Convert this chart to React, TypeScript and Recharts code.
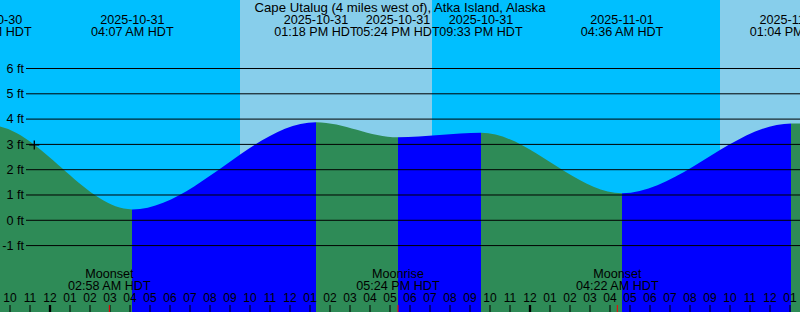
import React from 'react';
import {
  ComposedChart,
  Area,
  XAxis,
  YAxis,
  ReferenceArea,
  ReferenceLine,
  ReferenceDot,
  Customized,
} from 'recharts';

// Time axis: hours relative to 2025-10-31 00:00 HDT
const TITLE = 'Cape Utalug (4 miles west of), Atka Island, Alaska';

// Tide extremes (high / low)
const tideTimes = [-9.3, -3.0, 4.117, 13.3, 17.4, 21.55, 28.6, 37.067, 42.0];
const tideLevels = [3.2, 3.75, 0.43, 3.88, 3.28, 3.46, 1.07, 3.83, 3.3];
const tideDates = [
  '2025-10-30',
  '2025-10-30',
  '2025-10-31',
  '2025-10-31',
  '2025-10-31',
  '2025-10-31',
  '2025-11-01',
  '2025-11-01',
  '2025-11-01',
];
const tideClock = [
  '02:42 PM HDT',
  '09:00 PM HDT',
  '04:07 AM HDT',
  '01:18 PM HDT',
  '05:24 PM HDT',
  '09:33 PM HDT',
  '04:36 AM HDT',
  '01:04 PM HDT',
  '06:00 PM HDT',
];

// Daylight intervals [sunrise, sunset]
const dayStarts = [9.5, 33.5];
const dayEnds = [19.1, 43.1];

// Moon events
const moonTimes = [2.967, 17.4, 28.367];
const moonNames = ['Moonset', 'Moonrise', 'Moonset'];
const moonClock = ['02:58 AM HDT', '05:24 PM HDT', '04:22 AM HDT'];

// Current-time marker
const nowTime = -0.785;
const nowLevel = 2.98;

// Axes
const xDomain: [number, number] = [-2.5, 37.5];
const yDomain: [number, number] = [-3.625, 8.708];
const hourTicks = [
  -2, -1, 0, 1, 2, 3, 4, 5, 6, 7, 8, 9, 10, 11, 12, 13, 14, 15, 16, 17, 18, 19,
  20, 21, 22, 23, 24, 25, 26, 27, 28, 29, 30, 31, 32, 33, 34, 35, 36, 37,
];
const ftTicks = [6, 5, 4, 3, 2, 1, 0, -1];

const NIGHT = '#00BFFF';
const DAY = '#87CEEB';
const FALLING = '#2E8B57';
const RISING = '#0000FF';
const FONT = '"Liberation Sans", Arial, sans-serif';
const FS = 12.6;

const tideData = tideTimes.map((t, i) => ({ t, level: tideLevels[i] }));

const tMin = tideTimes[0];
const tMax = tideTimes[tideTimes.length - 1];
const gradientStops: { offset: number; color: string }[] = [];
for (let i = 0; i < tideTimes.length - 1; i++) {
  const color = tideLevels[i + 1] > tideLevels[i] ? RISING : FALLING;
  gradientStops.push({ offset: (tideTimes[i] - tMin) / (tMax - tMin), color });
  gradientStops.push({ offset: (tideTimes[i + 1] - tMin) / (tMax - tMin), color });
}

const hourLabel = (h: number) => {
  const hh = ((h % 24) + 24) % 24;
  const h12 = hh % 12 === 0 ? 12 : hh % 12;
  return String(h12).padStart(2, '0');
};

const Title = () => (
  <text
    x={400}
    y={11.5}
    textAnchor="middle"
    fontSize={13.2}
    fontFamily={FONT}
    fill="#000"
  >
    {TITLE}
  </text>
);

export default function App() {
  return (
    <div style={{ position: 'absolute', left: 0, top: 0, width: 800, height: 312, background: NIGHT }}>
      <ComposedChart
        width={800}
        height={312}
        data={tideData}
        margin={{ top: 0, right: 0, bottom: 0, left: 0 }}
      >
        <defs>
          <linearGradient id="tideFill" x1="0" y1="0" x2="1" y2="0">
            {gradientStops.map((s, i) => (
              <stop key={i} offset={s.offset} stopColor={s.color} />
            ))}
          </linearGradient>
        </defs>
        <XAxis dataKey="t" type="number" domain={xDomain} allowDataOverflow hide />
        <YAxis type="number" domain={yDomain} allowDataOverflow hide />
        {dayStarts.map((s, i) => (
          <ReferenceArea
            key={'day' + i}
            x1={s}
            x2={dayEnds[i]}
            fill={DAY}
            fillOpacity={1}
            stroke="none"
            ifOverflow="hidden"
            zIndex={-200}
          />
        ))}
        <Area
          type="monotone"
          dataKey="level"
          baseValue="dataMin"
          stroke="none"
          fill="url(#tideFill)"
          fillOpacity={1}
          isAnimationActive={false}
          dot={false}
          activeDot={false}
        />
        {ftTicks.map((v) => (
          <ReferenceLine
            key={'ft' + v}
            y={v}
            zIndex={500}
            shape={(p: any) => (
              <g>
                <line
                  x1={26}
                  x2={Math.max(p.x1, p.x2)}
                  y1={p.y1}
                  y2={p.y2}
                  stroke="#000"
                  strokeWidth={1}
                />
                <text
                  x={24}
                  y={p.y1 + 4.3}
                  textAnchor="end"
                  fontSize={FS}
                  fontFamily={FONT}
                  fill="#000"
                >
                  {v + ' ft'}
                </text>
              </g>
            )}
          />
        ))}
        {hourTicks.map((h) => (
          <ReferenceLine
            key={'h' + h}
            x={h}
            ifOverflow="visible"
            zIndex={600}
            shape={(p: any) => {
              const bottom = Math.max(p.y1, p.y2);
              const midnight = ((h % 24) + 24) % 24 === 0;
              return (
                <g>
                  <text
                    x={p.x1}
                    y={bottom - 10.5}
                    textAnchor="middle"
                    fontSize={12}
                    fontFamily={FONT}
                    fill="#000"
                  >
                    {hourLabel(h)}
                  </text>
                  <line
                    x1={p.x1}
                    x2={p.x1}
                    y1={bottom - 7}
                    y2={bottom}
                    stroke="#000"
                    strokeWidth={midnight ? 2.3 : 1}
                  />
                </g>
              );
            }}
          />
        ))}
        {tideTimes.map((t, i) => (
          <ReferenceLine
            key={'tl' + i}
            x={t}
            ifOverflow="visible"
            zIndex={600}
            shape={(p: any) => {
              const top = Math.min(p.y1, p.y2);
              return (
                <g fontSize={FS} fontFamily={FONT} fill="#000">
                  <text x={p.x1} y={top + 24} textAnchor="middle">
                    {tideDates[i]}
                  </text>
                  <text x={p.x1} y={top + 36} textAnchor="middle">
                    {tideClock[i]}
                  </text>
                </g>
              );
            }}
          />
        ))}
        {moonTimes.map((t, i) => (
          <ReferenceLine
            key={'moon' + i}
            x={t}
            ifOverflow="visible"
            zIndex={650}
            shape={(p: any) => {
              const bottom = Math.max(p.y1, p.y2);
              return (
                <g fontSize={FS} fontFamily={FONT} fill="#000">
                  <text x={p.x1} y={bottom - 33.7} textAnchor="middle">
                    {moonNames[i]}
                  </text>
                  <text x={p.x1} y={bottom - 22} textAnchor="middle">
                    {moonClock[i]}
                  </text>
                  <line
                    x1={p.x1}
                    x2={p.x1}
                    y1={bottom - 7}
                    y2={bottom}
                    stroke="#FF0000"
                    strokeWidth={1}
                  />
                </g>
              );
            }}
          />
        ))}
        <ReferenceDot
          x={nowTime}
          y={nowLevel}
          r={5}
          ifOverflow="visible"
          zIndex={700}
          shape={(p: any) => (
            <g stroke="#000" strokeWidth={1.3}>
              <line x1={p.cx - 5} x2={p.cx + 5} y1={p.cy} y2={p.cy} />
              <line x1={p.cx} x2={p.cx} y1={p.cy - 4.5} y2={p.cy + 4.5} />
            </g>
          )}
        />
        <Customized component={Title} />
      </ComposedChart>
    </div>
  );
}
